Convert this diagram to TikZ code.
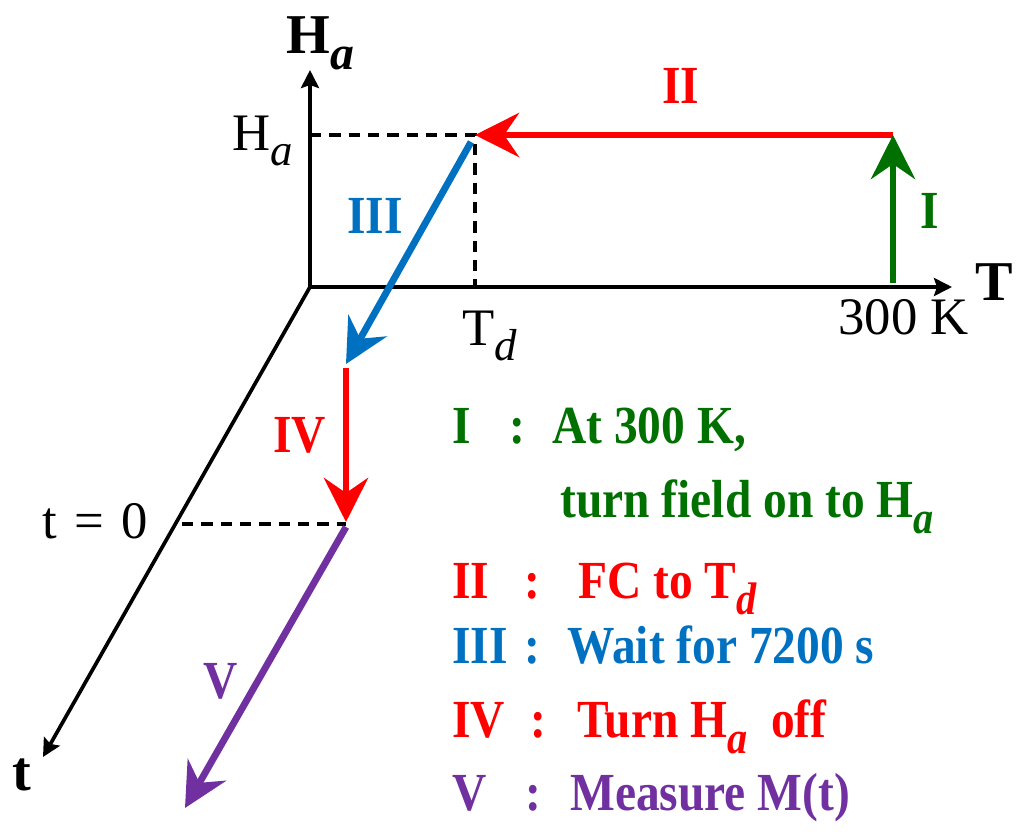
\documentclass[tikz,border=0pt]{standalone}
\usepackage{fontspec}
\setmainfont{LiberationSerif}[Extension=.ttf, UprightFont=*-Regular, BoldFont=*-Bold, ItalicFont=*-Italic, BoldItalicFont=*-BoldItalic]
\usetikzlibrary{arrows.meta}
\definecolor{cgreen}{RGB}{0,112,0}
\definecolor{cred}{RGB}{255,0,0}
\definecolor{cblue}{RGB}{0,112,192}
\definecolor{cpurple}{RGB}{112,48,160}
\newcommand\subit[1]{\raisebox{-0.3em}{\itshape\scalebox{0.85}{#1}}}
\newcommand\vs[1]{\scalebox{1}[1.13]{#1}}
\begin{document}
\begin{tikzpicture}[x=0.02cm,y=-0.02cm,
  axis/.style={line width=2.1pt,-{Stealth[length=0.36cm,width=0.36cm,inset=0.06cm]}},
  guide/.style={line width=1.9pt,dash pattern=on 6.5pt off 4.5pt},
  fat/.style={line width=3.9pt,-{Stealth[length=0.88cm,width=0.88cm,inset=0.3cm]}},
  lbl/.style={inner sep=0pt,anchor=base west,font=\fontsize{30}{36}\selectfont},
  blbl/.style={inner sep=0pt,anchor=base west,font=\fontsize{32}{38}\selectfont\bfseries},
  txt/.style={inner sep=0pt,anchor=base west,font=\fontsize{27}{32}\selectfont\bfseries},
  colon/.style={inner sep=0pt,anchor=base,font=\fontsize{27}{32}\selectfont\bfseries}]
\useasboundingbox (0,0) rectangle (1024,835);
% axes
\coordinate (O) at (310,287);
\coordinate (Htip) at (310,70);
\coordinate (Ttip) at (952,287);
\coordinate (ttip) at (43,757);
\draw[axis] (O) -- (Htip);
\draw[axis] (O) -- (Ttip);
\draw[axis] (O) -- (ttip);
% guide lines
\coordinate (Hy) at (310,135);
\coordinate (Cd) at (475,135);
\coordinate (Td) at (475,287);
\coordinate (t0) at (182,524);
\coordinate (t0e) at (346,524);
\draw[guide] (Hy) -- (Cd) -- (Td);
\draw[guide] (t0) -- (t0e);
% axis labels
\node[blbl] (Hlab) at (286,53) {H\subit{a}};
\node[blbl] (Tlab) at (975,300) {T};
\node[blbl] (tlab) at (12,790) {t};
\node[lbl] (Hval) at (232,150) {H\subit{a}};
\node[lbl] (Tdval) at (462,345) {T\subit{d}};
\node[lbl] (Kval) at (838,334) {300 K};
\node[lbl] (t0lab) at (42,538) {t\hspace{0.33em}=\hspace{0.33em}0};
% process arrows
\coordinate (A300) at (893,283);
\coordinate (B300) at (893,135);
\coordinate (BTd) at (475,135);
\coordinate (C1) at (471,142);
\coordinate (C2) at (346,364);
\coordinate (D1) at (346,368);
\coordinate (D2) at (346,522);
\coordinate (E1) at (346,527);
\coordinate (E2) at (185,808);
\draw[fat,cred] (B300) -- (BTd);
\draw[fat,cgreen] (A300) -- (B300);
\draw[fat,cblue] (C1) -- (C2);
\draw[fat,cred] (D1) -- (D2);
\draw[fat,cpurple] (E1) -- (E2);
% numeral labels
\node[txt,cgreen] (nI) at (920,228) {\vs{I}};
\node[txt,cred] (nII) at (662,103) {\vs{II}};
\node[txt,cblue] (nIII) at (347,233) {\vs{III}};
\node[txt,cred] (nIV) at (273,452) {\vs{IV}};
\node[txt,cpurple] (nV) at (203,698) {\vs{V}};
% legend
\node[txt,cgreen] (l1) at (452,443) {\vs{I}};
\node[colon,cgreen] (c1) at (517,443) {\vs{:}};
\node[txt,cgreen] (t1) at (552,443) {\vs{At 300 K,}};
\node[txt,cgreen] (t1b) at (560,517) {\vs{turn field on to H\subit{a}}};
\node[txt,cred] (l2) at (452,598) {\vs{II}};
\node[colon,cred] (c2) at (532,598) {\vs{:}};
\node[txt,cred] (t2) at (578,598) {\vs{FC to T\subit{d}}};
\node[txt,cblue] (l3) at (452,663) {\vs{III}};
\node[colon,cblue] (c3) at (532,663) {\vs{:}};
\node[txt,cblue] (t3) at (567,663) {\vs{Wait for 7200 s}};
\node[txt,cred] (l4) at (452,737) {\vs{IV}};
\node[colon,cred] (c4) at (538,737) {\vs{:}};
\node[txt,cred] (t4) at (577,737) {\vs{Turn H\subit{a}\ \ off}};
\node[txt,cpurple] (l5) at (452,810) {\vs{V}};
\node[colon,cpurple] (c5) at (533,810) {\vs{:}};
\node[txt,cpurple] (t5) at (570,810) {\vs{Measure M(t)}};
\end{tikzpicture}
\end{document}
